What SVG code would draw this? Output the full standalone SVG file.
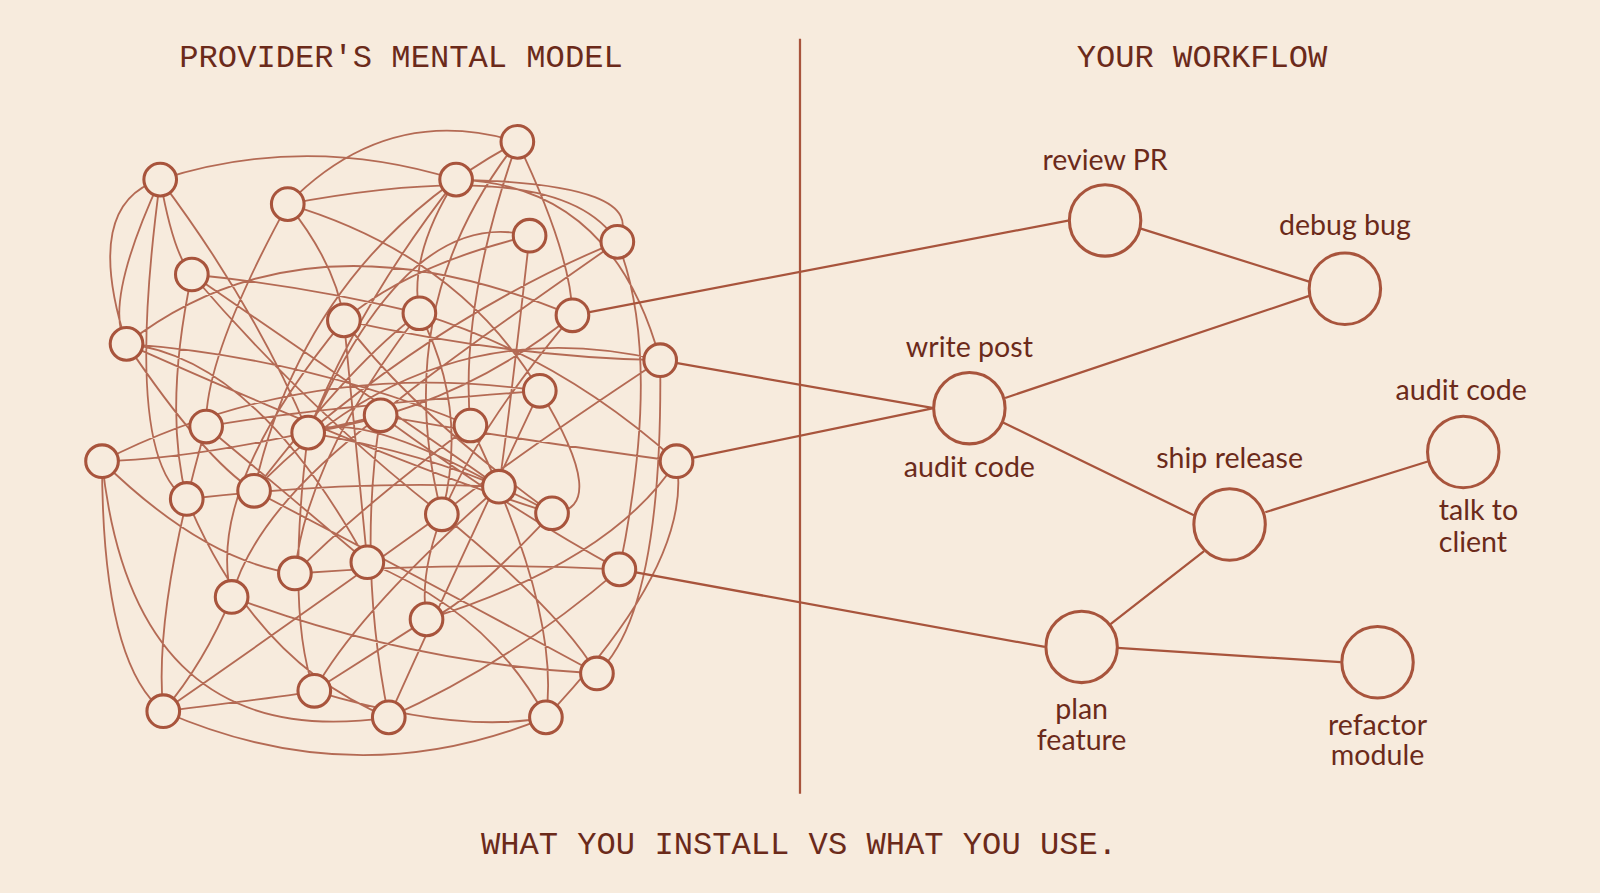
<svg xmlns="http://www.w3.org/2000/svg" width="1600" height="893" viewBox="0 0 1600 893">
<style>
.bg{fill:#f7ebdd}
.e{fill:none;stroke:#a8543c;stroke-width:1.8;stroke-linecap:round;opacity:.85}
.c{fill:none;stroke:#a8543c;stroke-width:2.2}
.n{fill:#f7ebdd;stroke:#a8543c;stroke-width:3}
.N{fill:#f7ebdd;stroke:#a8543c;stroke-width:3}
.t{font-family:"Liberation Mono",monospace;font-size:31.5px;fill:#6b2a1a}
.h{font-family:"Lato","Open Sans",sans-serif;font-size:28px;fill:#6b2a1a}
</style>
<rect class="bg" width="1600" height="893"/>
<g transform="scale(1.0204)">
<text class="t" x="393" y="66" text-anchor="middle">PROVIDER'S MENTAL MODEL</text>
<text class="t" x="1178" y="66" text-anchor="middle">YOUR WORKFLOW</text>
<text class="t" x="783" y="837" text-anchor="middle">WHAT YOU INSTALL VS WHAT YOU USE.</text>
<line class="c" x1="784" y1="38" x2="784" y2="778"/>
<g id="connectors">
<path class="e" d="M157,176 Q300,130 447,176 M157,176 Q100,300 124,337 M157,176 Q250,300 302,424 M157,176 Q170,250 188,269 M282,200 Q380,100 507,139 M282,200 Q330,260 337,314 M282,200 Q200,350 202,418 M282,200 Q450,250 529,383 M447,176 Q400,250 411,307 M447,176 Q600,180 647,353 M447,176 Q350,300 302,424 M507,139 Q560,250 561,309 M507,139 Q450,300 461,417 M507,139 Q300,250 249,481 M519,231 Q400,260 337,314 M519,231 Q500,400 489,477 M605,237 Q450,300 302,424 M605,237 Q650,350 607,558 M605,237 Q400,380 373,407 M188,269 Q300,280 411,307 M188,269 Q160,400 183,489 M188,269 Q300,400 433,504 M124,337 Q300,350 461,417 M124,337 Q200,450 249,481 M124,337 Q400,460 541,503 M124,337 Q300,200 561,309 M337,314 Q350,450 360,551 M337,314 Q500,350 647,353 M337,314 Q200,480 227,585 M411,307 Q460,400 433,504 M411,307 Q300,450 289,562 M411,307 Q550,350 663,452 M561,309 Q450,400 302,424 M561,309 Q400,500 418,607 M647,353 Q500,450 433,504 M647,353 Q650,600 585,660 M529,383 Q300,400 202,418 M529,383 Q450,550 381,703 M202,418 Q300,500 360,551 M202,418 Q150,600 160,697 M302,424 Q450,450 541,503 M302,424 Q280,600 308,677 M373,407 Q500,500 607,558 M373,407 Q200,450 100,452 M373,407 Q350,550 381,703 M373,407 Q250,500 227,585 M461,417 Q350,500 289,562 M461,417 Q550,600 535,703 M100,452 Q300,350 529,383 M100,452 Q200,550 289,562 M100,452 Q100,650 160,697 M663,452 Q500,430 373,407 M663,452 Q600,550 418,607 M183,489 Q350,470 489,477 M183,489 Q250,650 381,703 M249,481 Q400,560 585,660 M249,481 Q350,350 411,307 M433,504 Q300,600 160,697 M433,504 Q550,600 585,660 M489,477 Q350,600 308,677 M489,477 Q350,400 302,424 M541,503 Q450,600 418,607 M541,503 Q400,400 337,314 M360,551 Q480,600 535,703 M360,551 Q250,350 124,337 M289,562 Q450,550 607,558 M607,558 Q500,650 381,703 M227,585 Q400,650 585,660 M227,585 Q200,650 160,697 M418,607 Q350,650 308,677 M160,697 Q300,680 308,677 M160,697 Q350,780 535,703 M308,677 Q450,720 535,703 M124,337 Q80,200 157,176 M100,452 Q130,740 381,703 M535,703 Q680,550 663,452 M605,237 Q640,180 447,176 M157,176 Q120,450 183,489 M282,200 Q550,150 605,237 M188,269 Q350,380 489,477 M647,353 Q420,300 249,481 M529,383 Q600,500 541,503 M302,424 Q400,200 519,231 M433,504 Q380,300 507,139"/>
<path class="c" d="M561,309 L1048,216 M647,353 L915,400 M663,452 L915,400 M607,558 L1024,634 M1118,224 L1283,276 M985,390 L1283,290 M983,414 L1170,505 M1240,502 L1400,452 M1180,540 L1088,612 M1095,635 L1314,649"/>
</g>
<g id="left-nodes">
<circle class="n" cx="157" cy="176" r="16"/><circle class="n" cx="282" cy="200" r="16"/><circle class="n" cx="447" cy="176" r="16"/><circle class="n" cx="507" cy="139" r="16"/><circle class="n" cx="519" cy="231" r="16"/><circle class="n" cx="605" cy="237" r="16"/><circle class="n" cx="188" cy="269" r="16"/><circle class="n" cx="124" cy="337" r="16"/><circle class="n" cx="337" cy="314" r="16"/><circle class="n" cx="411" cy="307" r="16"/><circle class="n" cx="561" cy="309" r="16"/><circle class="n" cx="647" cy="353" r="16"/><circle class="n" cx="529" cy="383" r="16"/><circle class="n" cx="202" cy="418" r="16"/><circle class="n" cx="302" cy="424" r="16"/><circle class="n" cx="373" cy="407" r="16"/><circle class="n" cx="461" cy="417" r="16"/><circle class="n" cx="100" cy="452" r="16"/><circle class="n" cx="663" cy="452" r="16"/><circle class="n" cx="183" cy="489" r="16"/><circle class="n" cx="249" cy="481" r="16"/><circle class="n" cx="433" cy="504" r="16"/><circle class="n" cx="489" cy="477" r="16"/><circle class="n" cx="541" cy="503" r="16"/><circle class="n" cx="360" cy="551" r="16"/><circle class="n" cx="289" cy="562" r="16"/><circle class="n" cx="607" cy="558" r="16"/><circle class="n" cx="227" cy="585" r="16"/><circle class="n" cx="418" cy="607" r="16"/><circle class="n" cx="585" cy="660" r="16"/><circle class="n" cx="160" cy="697" r="16"/><circle class="n" cx="308" cy="677" r="16"/><circle class="n" cx="381" cy="703" r="16"/><circle class="n" cx="535" cy="703" r="16"/>
</g>
<g id="review-pr"><circle class="N" cx="1083" cy="216" r="35"/><text class="h" x="1083" y="167" text-anchor="middle">review PR</text></g>
<g id="debug-bug"><circle class="N" cx="1318" cy="283" r="35"/><text class="h" x="1318" y="230" text-anchor="middle">debug bug</text></g>
<g id="write-post"><circle class="N" cx="950" cy="400" r="35"/><text class="h" x="950" y="350" text-anchor="middle">write post</text><text class="h" x="950" y="467" text-anchor="middle">audit code</text></g>
<g id="ship-release"><circle class="N" cx="1205" cy="514" r="35"/><text class="h" x="1205" y="459" text-anchor="middle">ship release</text></g>
<g id="audit-code"><circle class="N" cx="1434" cy="443" r="35"/><text class="h" x="1432" y="392" text-anchor="middle">audit code</text><text class="h" x="1410" y="510">talk to</text><text class="h" x="1410" y="541">client</text></g>
<g id="plan-feature"><circle class="N" cx="1060" cy="634" r="35"/><text class="h" x="1060" y="705" text-anchor="middle">plan</text><text class="h" x="1060" y="735" text-anchor="middle">feature</text></g>
<g id="refactor-module"><circle class="N" cx="1350" cy="649" r="35"/><text class="h" x="1350" y="720" text-anchor="middle">refactor</text><text class="h" x="1350" y="750" text-anchor="middle">module</text></g>
</g>
</svg>
